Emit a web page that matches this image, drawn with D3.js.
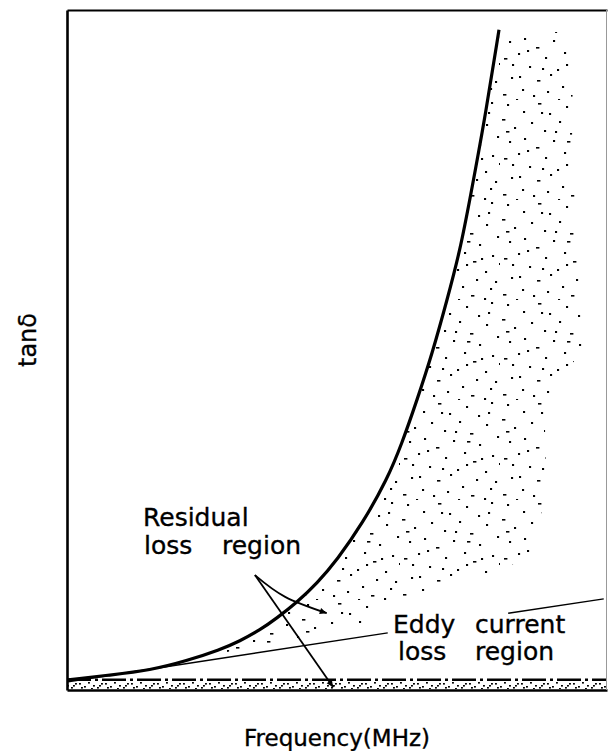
<!DOCTYPE html>
<html>
<head>
<meta charset="utf-8">
<script src="https://cdn.jsdelivr.net/npm/d3@7"></script>
<style>
  body { margin: 0; background: #fff; }
  text { font-family: 'DejaVu Sans', sans-serif; fill: #000; stroke: #000; stroke-width: 0.35px; }
</style>
</head>
<body>
<script>
// loss curve (arbitrary units, 0-100 on both axes; the chart has no ticks)
const freq     = [0.2, 8.0, 15.4, 22.2, 28.3, 32.0, 35.7, 38.9, 42.6, 46.3, 50.0, 54.8, 59.3, 62.0, 64.8, 67.6, 70.4, 72.8, 74.6, 77.4, 80.0];
const tanDelta = [1.5, 2.2, 2.9, 4.3, 5.9, 7.2, 8.8, 10.6, 12.9, 15.7, 19.1, 24.6, 31.0, 36.2, 42.6, 49.4, 57.4, 64.7, 72.1, 84.1, 97.1];

// eddy current line, drawn in two pieces around its label
const eddyFreq = [0.2, 59.4, 81.7, 99.4];
const eddyTan  = [1.2, 8.4, 11.3, 13.4];

// residual loss level (dashed band at the bottom)
const residualLevel = 1.5;

// outer edge of the dotted region (clockwise, from the top of the curve)
const edgeFreq = [82.0, 91.3, 93.7, 93.5, 94.6, 95.9, 90.9, 88.5, 88.7, 86.1, 80.2, 73.7, 65.4, 58.0, 54.6, 48.7, 41.3, 33.9, 28.3];
const edgeTan  = [96.2, 96.8, 92.6, 79.4, 64.7, 50.7, 44.9, 39.7, 29.4, 19.4, 17.9, 15.9, 14.4, 12.5, 9.6, 8.2, 7.4, 6.2, 5.4];

// arrows of the "Residual loss region" label
const arrowCurve = [[34.8, 16.9], [40.4, 13.7], [48.1, 11.3]];
const arrowLine  = [[34.8, 16.9], [49.3, 0.4]];

const W = 608, H = 751;
const svg = d3.select('body').append('svg').attr('width', W).attr('height', H);

const x = d3.scaleLinear().domain([0, 100]).range([67, 607]);
const y = d3.scaleLinear().domain([0, 100]).range([690, 10]);

const defs = svg.append('defs');

// stipple texture (hand scattered dots in a 100px tile)
const stip = defs.append('pattern').attr('id', 'stip')
    .attr('patternUnits', 'userSpaceOnUse').attr('width', 100).attr('height', 100);
const stipDots = [
    [7,4],[23,11],[38,3],[49,13],[66,6],[78,15],[91,2],
    [2,19],[14,27],[31,22],[44,30],[59,21],[70,33],[86,24],[97,36],
    [9,41],[24,38],[36,47],[53,40],[64,52],[79,44],[92,55],
    [4,58],[18,53],[29,66],[45,57],[57,69],[73,61],[85,71],[99,63],
    [11,77],[22,89],[37,80],[50,74],[62,86],[76,79],[90,88],
    [3,94],[16,99],[33,95],[47,91],[58,99],[71,95],[84,98],[95,81],
    [27,50],[42,68],[67,41],[81,58],[12,64],
    [55,31],[88,12],[6,31],[19,76],[66,64],[41,12]
];
stip.selectAll('rect').data(stipDots).enter().append('rect')
    .attr('x', d => d[0]).attr('y', d => d[1])
    .attr('width', (d, i) => i % 5 == 2 ? 3.4 : 2.1)
    .attr('height', (d, i) => i % 5 == 2 ? 1.6 : 2)
    .attr('fill', '#000');

const band = defs.append('pattern').attr('id', 'band')
    .attr('patternUnits', 'userSpaceOnUse').attr('width', 26).attr('height', 8)
    .attr('y', 681);
const bandDots = [[1,2],[6,5],[10,1],[15,4],[19,6],[23,2],[3,6],[13,7],[21,4]];
band.selectAll('rect').data(bandDots).enter().append('rect')
    .attr('x', d => d[0]).attr('y', d => d[1])
    .attr('width', 1.9).attr('height', 1.6).attr('fill', '#000');

defs.append('marker').attr('id', 'arrow')
    .attr('viewBox', '0 0 10 10').attr('refX', 10).attr('refY', 5)
    .attr('markerWidth', 12).attr('markerHeight', 7)
    .attr('markerUnits', 'userSpaceOnUse').attr('orient', 'auto')
    .append('path').attr('d', 'M0,0.5L10,5L0,9.5Z').attr('fill', '#000');

const line = d3.line().x(d => x(d[0])).y(d => y(d[1]));

// dotted region between curve and its edge
const curvePts = freq.map((f, i) => [f, tanDelta[i]]).filter(d => d[0] >= 28);
const edgePts = edgeFreq.map((f, i) => [f, edgeTan[i]]);
svg.append('path')
    .attr('d', line(curvePts.concat(edgePts)) + 'Z')
    .attr('fill', 'url(#stip)');

// residual band
svg.append('rect')
    .attr('x', x(0)).attr('y', 681)
    .attr('width', x(100) - x(0)).attr('height', y(0) - 681)
    .attr('fill', 'url(#band)');
svg.append('line')
    .attr('x1', x(0)).attr('x2', x(100))
    .attr('y1', y(residualLevel)).attr('y2', y(residualLevel))
    .attr('stroke', '#000').attr('stroke-width', 2.4)
    .attr('stroke-dasharray', '24,4,3,4');

// frame
svg.append('g').attr('transform', 'translate(0,' + y(0) + ')')
    .call(d3.axisBottom(x).tickValues([]).tickSizeOuter(0))
    .select('.domain').attr('stroke-width', 2.6);
svg.append('g').attr('transform', 'translate(0,' + y(100) + ')')
    .call(d3.axisTop(x).tickValues([]).tickSizeOuter(0))
    .select('.domain').attr('stroke-width', 2);
svg.append('g').attr('transform', 'translate(' + x(0) + ',0)')
    .call(d3.axisLeft(y).tickValues([]).tickSizeOuter(0))
    .select('.domain').attr('stroke-width', 2.6);
svg.append('line')
    .attr('x1', 606.5).attr('x2', 606.5).attr('y1', y(100)).attr('y2', y(0))
    .attr('stroke', '#999').attr('stroke-width', 1);

// eddy current line
[[0, 1], [2, 3]].forEach(s => {
    svg.append('line')
        .attr('x1', x(eddyFreq[s[0]])).attr('y1', y(eddyTan[s[0]]))
        .attr('x2', x(eddyFreq[s[1]])).attr('y2', y(eddyTan[s[1]]))
        .attr('stroke', '#000').attr('stroke-width', 1.5);
});

// total loss curve
svg.append('path')
    .datum(freq.map((f, i) => [f, tanDelta[i]]))
    .attr('d', d3.line().x(d => x(d[0])).y(d => y(d[1])).curve(d3.curveBasis))
    .attr('fill', 'none').attr('stroke', '#000').attr('stroke-width', 3.2);

// arrows
svg.append('path')
    .attr('d', d3.line().x(d => x(d[0])).y(d => y(d[1])).curve(d3.curveNatural)(arrowCurve))
    .attr('fill', 'none').attr('stroke', '#000').attr('stroke-width', 1.8)
    .attr('marker-end', 'url(#arrow)');
svg.append('path')
    .attr('d', line(arrowLine))
    .attr('fill', 'none').attr('stroke', '#000').attr('stroke-width', 1.8)
    .attr('marker-end', 'url(#arrow)');

// labels
const labels = [
    ['Residual', 143, 525.5], ['loss', 144, 554], ['region', 222, 554],
    ['Eddy', 393, 633], ['current', 475, 633], ['loss', 398, 660], ['region', 475, 660]
];
svg.selectAll('text.lab').data(labels).enter().append('text')
    .attr('class', 'lab')
    .attr('x', d => d[1]).attr('y', d => d[2])
    .style('font-size', '25px')
    .text(d => d[0]);

svg.append('text')
    .attr('x', 337).attr('y', 746)
    .attr('text-anchor', 'middle')
    .style('font-size', '23px')
    .text('Frequency(MHz)');

svg.append('text')
    .attr('transform', 'translate(36,340) rotate(-90)')
    .attr('text-anchor', 'middle')
    .style('font-size', '24px')
    .text('tanδ');
</script>
</body>
</html>
